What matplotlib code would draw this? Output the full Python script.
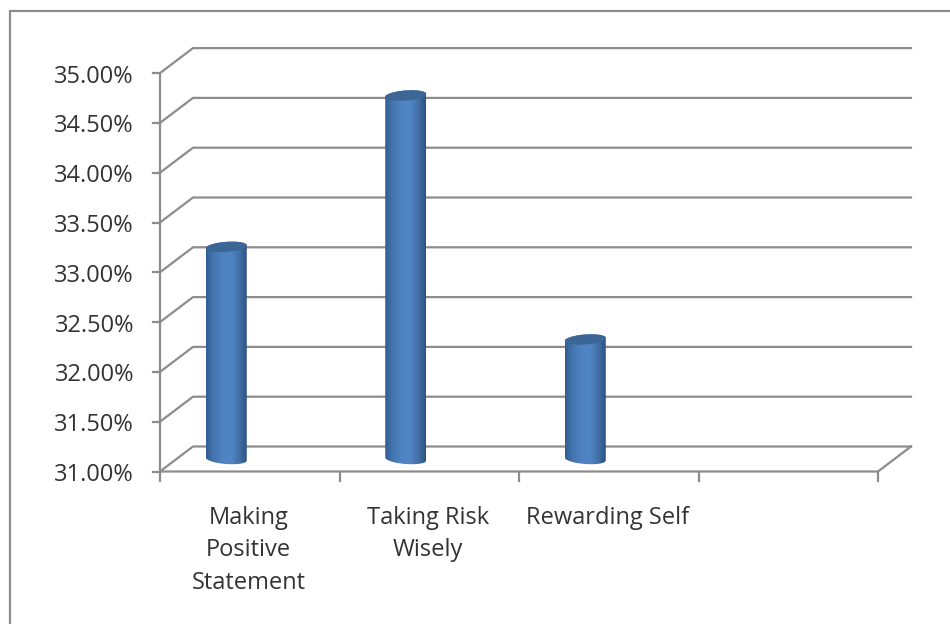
import matplotlib
matplotlib.use('Agg')
import matplotlib.pyplot as plt
import numpy as np
from matplotlib.colors import LinearSegmentedColormap
from matplotlib.patches import Polygon

categories = ['Making\nPositive\nStatement', 'Taking Risk\nWisely', 'Rewarding Self']
values = [33.13, 34.65, 32.2]
y_ticks = [31.0, 31.5, 32.0, 32.5, 33.0, 33.5, 34.0, 34.5, 35.0]
n_slots = 4

# pixel layout of the front plane
W, H = 950, 624
x0_px, slot_px = 160, 179.5
y0_px, unit_px = 471.5, 99.6

# depth of the fake 3d box, in data units
depth_x = 33 / slot_px
depth_y = 25 / unit_px
bar_shift = -23.5 / slot_px
bar_rx = 20.5 / slot_px
bar_ry = 5 / unit_px
tilt = 1.5 / unit_px

line_col = '#8c8c8c'
text_col = '#333333'
font_size = 17
plt.rcParams['font.family'] = ['Open Sans', 'DejaVu Sans']

fig = plt.figure(figsize=(W / 100, H / 100), dpi=100)
ax = fig.add_axes([0, 0, 1, 1])
xlim = (-x0_px / slot_px, (W - x0_px) / slot_px)
ylim = (31 - (H - y0_px) / unit_px, 31 + y0_px / unit_px)
ax.axis('off')

# outer chart border, only the top and left edges are in view
ax.plot([xlim[1], -150.5 / slot_px, -150.5 / slot_px],
        [31 + 460.5 / unit_px, 31 + 460.5 / unit_px, ylim[0]],
        color=line_col, lw=1.6, solid_joinstyle='miter')

# walls: back gridlines plus the diagonals on the left side
for t in y_ticks:
    ax.plot([0, depth_x, n_slots + depth_x], [t, t + depth_y, t + depth_y], color=line_col, lw=1.6)
    ax.plot([-7 / slot_px, 0], [t, t], color=line_col, lw=1.6)
    ax.text(-26 / slot_px, t - 3.5 / unit_px, f'{t:.2f}%', ha='right', va='center',
            fontsize=font_size, color=text_col)

# front floor edge, right diagonal, value axis
ax.plot([0, n_slots, n_slots + depth_x], [31, 31, 31 + depth_y], color=line_col, lw=1.6)
ax.plot([0, 0], [31, 35], color=line_col, lw=1.6)
for i in range(n_slots + 1):
    ax.plot([i, i], [31, 31 - 9 / unit_px], color=line_col, lw=1.6)

# category labels, one text per line to hold the wide leading
for i, label in enumerate(categories):
    for j, part in enumerate(label.split('\n')):
        ax.text(i + 0.5 - 1 / slot_px, 31 - (46 + 32.7 * j) / unit_px, part, ha='center', va='center',
                fontsize=font_size, color=text_col)

# cylinders, darker towards both edges with a wide flat middle
cyl_cmap = LinearSegmentedColormap.from_list(
    'cyl', [(0.0, '#335d92'), (0.18, '#4375b0'), (0.4, '#4f82c1'), (0.62, '#5085c4'),
            (0.82, '#426fa6'), (1.0, '#2d5280')])
gradient = np.linspace(0, 1, 256).reshape(1, -1)
theta = np.linspace(0, np.pi, 60)

for i, v in enumerate(values):
    cx = i + 0.5 + bar_shift
    base = 31 + depth_y / 2
    top = v + depth_y / 2
    # lower half of the base ellipse and upper half of the top one form the outline
    bx = cx - bar_rx * np.cos(theta)
    by = base - bar_ry * np.sin(theta) + tilt * np.cos(theta)
    tx = cx + bar_rx * np.cos(theta)
    ty = top + bar_ry * np.sin(theta) + tilt * np.cos(theta)
    body = Polygon(np.column_stack([np.r_[bx, tx], np.r_[by, ty]]), closed=True,
                   transform=ax.transData, facecolor='none', edgecolor='none')
    ax.add_patch(body)
    im = ax.imshow(gradient, cmap=cyl_cmap, aspect='auto', zorder=3, interpolation='bilinear',
                   extent=(cx - bar_rx, cx + bar_rx, base - 2 * bar_ry, top + 2 * bar_ry))
    im.set_clip_path(body)
    # top cap
    phi = np.linspace(0, 2 * np.pi, 80)
    cap = np.column_stack([cx + bar_rx * np.cos(phi),
                           top + bar_ry * np.sin(phi) + tilt * np.cos(phi)])
    ax.add_patch(Polygon(cap, closed=True, facecolor='#3c6696', edgecolor='none', zorder=4))

ax.set_xlim(xlim)
ax.set_ylim(ylim)

fig.savefig('out.png', dpi=100)
